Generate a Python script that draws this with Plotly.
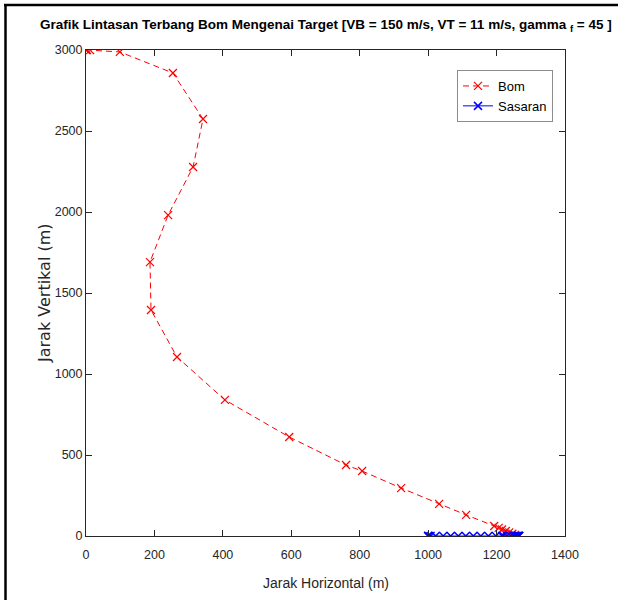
import plotly.graph_objects as go

# Bomb trajectory (m)
bom_x = [0, 3, 12, 99, 254, 342, 313, 240, 187, 190, 266, 406, 594, 760, 807,
         921, 1032, 1111, 1193, 1206, 1216, 1227, 1237, 1246, 1254, 1262]
bom_y = [3000, 3000, 2999, 2988, 2858, 2574, 2278, 1981, 1691, 1395, 1105, 840, 611, 438, 401,
         296, 198, 130, 62, 50, 40, 31, 22, 14, 7, 0]

# Target positions (m)
sas_x = [1000, 1000, 1001, 1007, 1022, 1044, 1066, 1088, 1110, 1132, 1154, 1176, 1198,
         1216, 1220, 1231, 1242, 1250, 1255, 1258, 1261, 1263, 1264, 1265, 1266, 1266]
sas_y = [0] * len(sas_x)

x_ticks = [0, 200, 400, 600, 800, 1000, 1200, 1400]
y_ticks = [0, 500, 1000, 1500, 2000, 2500, 3000]

SANS = "Liberation Sans, Arial, sans-serif"
AX = "#262626"

fig = go.Figure()
fig.add_trace(go.Scatter(
    x=bom_x, y=bom_y, mode="lines+markers", name="Bom",
    line=dict(color="#ff0000", width=1, dash="6px,4px"),
    marker=dict(symbol="x-thin", size=8, line=dict(color="#ff0000", width=1.2)),
))
fig.add_trace(go.Scatter(
    x=sas_x, y=sas_y, mode="lines+markers", name="Sasaran",
    line=dict(color="#0000ff", width=1),
    marker=dict(symbol="x-thin", size=8, line=dict(color="#0000ff", width=1.5)),
))

W, H = 618, 600
L, R, T, B = 86, 53, 50, 64
pw, ph = W - L - R, H - T - B

def px2paper_x(px):
    return (px - L) / pw

def px2paper_y(py):
    return (H - B - py) / ph

axis_common = dict(
    showgrid=False, zeroline=False, showline=True, linecolor=AX, linewidth=1,
    mirror="ticks", ticks="inside", ticklen=6, tickcolor=AX, tickwidth=1,
    tickfont=dict(family=SANS, size=12.5, color=AX),
)

fig.update_layout(
    width=W, height=H,
    margin=dict(l=L, r=R, t=T, b=B),
    paper_bgcolor="white", plot_bgcolor="white",
    xaxis=dict(range=[0, 1400], tickvals=x_ticks, ticktext=[str(v) for v in x_ticks],
               ticklabelstandoff=7, **axis_common),
    yaxis=dict(range=[0, 3000], tickvals=y_ticks, ticktext=[str(v) for v in y_ticks], **axis_common),
    showlegend=True,
    legend=dict(
        x=px2paper_x(553), y=px2paper_y(70), xanchor="right", yanchor="top",
        bgcolor="white", bordercolor="#8c8c8c", borderwidth=1,
        font=dict(family=SANS, size=13, color="#000000"),
        itemwidth=30, tracegroupgap=0,
    ),
    annotations=[
        dict(text="Grafik Lintasan Terbang Bom Mengenai Target [VB = 150 m/s, VT = 11 m/s, gamma <sub>f</sub> = 45 ]",
             xref="paper", yref="paper", x=0.5, y=px2paper_y(25), xanchor="center", yanchor="middle",
             showarrow=False, font=dict(family=SANS, size=13.5, color="#000000", weight="bold")),
        dict(text="Jarak Horizontal (m)", xref="paper", yref="paper",
             x=0.5, y=px2paper_y(583), xanchor="center", yanchor="middle",
             showarrow=False, font=dict(family=SANS, size=14, color=AX)),
        dict(text="Jarak Vertikal (m)", xref="paper", yref="paper",
             x=px2paper_x(44), y=px2paper_y(293), xanchor="center", yanchor="middle",
             textangle=-90, showarrow=False, font=dict(family="DejaVu Sans", size=16, color=AX)),
    ],
    shapes=[
        dict(type="line", xref="paper", yref="paper",
             x0=px2paper_x(5.5), x1=px2paper_x(5.5), y0=px2paper_y(5), y1=px2paper_y(600),
             line=dict(color="black", width=2.5)),
        dict(type="line", xref="paper", yref="paper",
             x0=px2paper_x(4), x1=px2paper_x(618), y0=px2paper_y(5), y1=px2paper_y(5),
             line=dict(color="black", width=2.5)),
    ],
)

fig.write_html("out.html")
